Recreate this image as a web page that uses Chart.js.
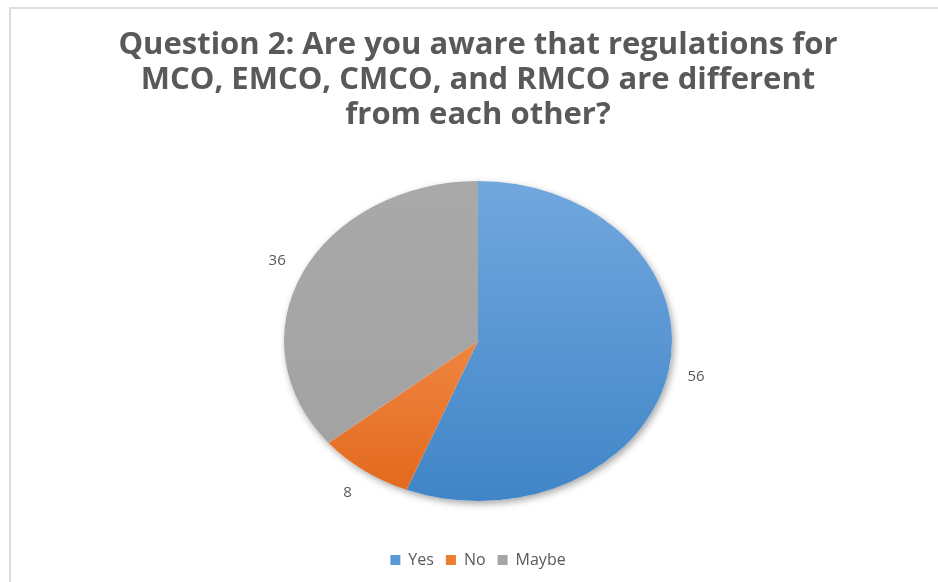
<!DOCTYPE html>
<html><head><meta charset="utf-8">
<script src="https://cdn.jsdelivr.net/npm/chart.js@4"></script>
<style>
html,body{margin:0;padding:0;background:#fff;overflow:hidden}
#frame{position:absolute;left:9px;top:7px;width:1000px;height:700px;border:2px solid #dedede;}
#wrap{position:absolute;left:0;top:0;width:938px;height:582px}
</style></head>
<body>
<div id="frame"></div>
<div id="wrap"><canvas id="c" width="938" height="582"></canvas></div>
<script>
const categories = ['Yes', 'No', 'Maybe'];
const responses = [56, 8, 36];
const titleLines = [
  'Question 2: Are you aware that regulations for',
  'MCO, EMCO, CMCO, and RMCO are different',
  'from each other?'
];
const solidColors = ['#5b9bd5', '#ed7d31', '#a5a5a5'];
const gradientTop = ['#72a7de', '#fca46a', '#a9a9a9'];
const gradientBottom = ['#4085c7', '#e2671a', '#a1a1a1'];

const TEXT = '#595959';
const PIE_RADIUS = 160;
const X_STRETCH = 194 / 160;   // pie is drawn as a wide ellipse
const LABEL_GAP = 28;

function sliceFill(ctx) {
  const chart = ctx.chart;
  const area = chart.chartArea;
  if (!area || !Number.isFinite(area.top) || area.bottom <= area.top) return solidColors[ctx.dataIndex];
  const cy = (area.top + area.bottom) / 2;
  const g = chart.ctx.createLinearGradient(0, cy - PIE_RADIUS, 0, cy + PIE_RADIUS);
  g.addColorStop(0, gradientTop[ctx.dataIndex]);
  g.addColorStop(1, gradientBottom[ctx.dataIndex]);
  return g;
}

const ellipsePlugin = {
  id: 'ellipsePie',
  beforeDatasetsDraw(chart) {
    const arc = chart.getDatasetMeta(0).data[0];
    const ctx = chart.ctx;
    ctx.save();
    ctx.translate(arc.x, arc.y);
    ctx.scale(X_STRETCH, 1);
    ctx.translate(-arc.x, -arc.y);
    // soft drop shadow under the whole pie
    ctx.save();
    ctx.shadowColor = 'rgba(0,0,0,0.35)';
    ctx.shadowBlur = 7;
    ctx.shadowOffsetX = 2;
    ctx.shadowOffsetY = 3;
    ctx.beginPath();
    ctx.arc(arc.x, arc.y, arc.outerRadius, 0, Math.PI * 2);
    ctx.fillStyle = '#ffffff';
    ctx.fill();
    ctx.restore();
  },
  afterDatasetsDraw(chart) {
    const ctx = chart.ctx;
    ctx.restore();
    const meta = chart.getDatasetMeta(0);
    ctx.save();
    ctx.font = '15px "Open Sans"';
    ctx.fillStyle = TEXT;
    ctx.textAlign = 'center';
    ctx.textBaseline = 'middle';
    meta.data.forEach((arc, i) => {
      const mid = (arc.startAngle + arc.endAngle) / 2;
      const x = arc.x + (arc.outerRadius * X_STRETCH + LABEL_GAP) * Math.cos(mid);
      const y = arc.y + (arc.outerRadius + LABEL_GAP) * Math.sin(mid);
      ctx.fillText(String(responses[i]), x, y);
    });
    ctx.restore();
  }
};

new Chart(document.getElementById('c'), {
  type: 'pie',
  data: {
    labels: categories,
    datasets: [{
      data: responses,
      backgroundColor: sliceFill,
      borderWidth: 0
    }]
  },
  options: {
    responsive: false,
    animation: false,
    events: [],
    radius: PIE_RADIUS,
    layout: { padding: { left: 18, right: 0, top: 0, bottom: 4 } },
    plugins: {
      tooltip: { enabled: false },
      title: {
        display: true,
        text: titleLines,
        color: TEXT,
        font: { family: '"Open Sans"', size: 31, weight: 'bold', lineHeight: 1.13 },
        padding: { top: 28, bottom: 9 }
      },
      legend: {
        position: 'bottom',
        labels: {
          color: TEXT,
          font: { family: '"Open Sans"', size: 16 },
          boxWidth: 10,
          boxHeight: 10,
          padding: 12,
          generateLabels(chart) {
            const base = Chart.overrides.pie.plugins.legend.labels.generateLabels(chart);
            return base.map((item, i) => Object.assign(item, {
              fillStyle: solidColors[i], strokeStyle: solidColors[i], lineWidth: 0
            }));
          }
        }
      }
    }
  },
  plugins: [ellipsePlugin]
});
</script>
</body></html>
